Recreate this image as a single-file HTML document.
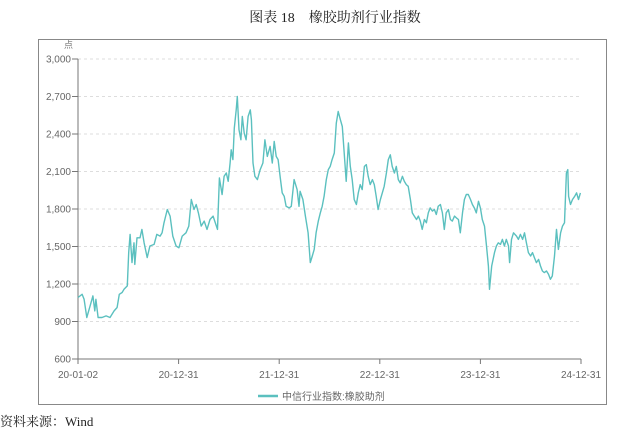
<!DOCTYPE html>
<html><head><meta charset="utf-8"><style>
html,body{margin:0;padding:0;background:#fff;width:625px;height:430px;overflow:hidden}
svg{display:block}
</style></head><body>
<svg id="c" width="625" height="430" xmlns="http://www.w3.org/2000/svg">
<text x="335" y="22" text-anchor="middle" font-family="'Liberation Serif','Noto Serif CJK SC',serif" font-size="14" fill="#222">图表 18　橡胶助剂行业指数</text>
<rect x="38.5" y="39.5" width="568" height="365" fill="none" stroke="#888" stroke-width="1"/>
<text x="64" y="48" font-family="'Liberation Sans','Noto Sans CJK SC',sans-serif" font-size="9" fill="#777">点</text>
<g id="grid"></g>
<g id="axes"></g>
<path id="line" fill="none" stroke="#5bc0bf" stroke-width="1.4" stroke-linejoin="round"/>
<g>
<line x1="258" y1="396" x2="278" y2="396" stroke="#5bc0bf" stroke-width="2.5"/>
<text x="282" y="400" font-family="'Liberation Sans','Noto Sans CJK SC',sans-serif" font-size="10" fill="#666">中信行业指数:橡胶助剂</text>
</g>
<text x="0" y="426" font-family="'Liberation Serif','Noto Serif CJK SC',serif" font-size="13" fill="#222">资料来源：Wind</text>
</svg>
<script>
const yTicks=[600,900,1200,1500,1800,2100,2400,2700,3000];
const yTickLabels=["600","900","1,200","1,500","1,800","2,100","2,400","2,700","3,000"];
const xTickLabels=["20-01-02","20-12-31","21-12-31","22-12-31","23-12-31","24-12-31"];
const totalDays=1825;
const days=[0,15,22,32,44,54,61,65,73,87,102,116,131,142,150,160,167,179,184,189,196,203,206,214,225,232,240,251,261,276,286,298,305,312,324,334,344,356,366,378,392,402,411,421,429,437,447,458,468,479,490,498,506,513,523,530,538,545,552,556,562,567,574,578,584,591,596,603,610,617,625,629,635,642,651,661,671,678,687,697,705,712,719,726,734,741,748,755,766,774,784,795,802,806,816,825,835,843,850,857,864,872,879,886,893,901,908,915,922,930,937,944,952,959,966,973,981,988,995,1002,1010,1017,1024,1031,1039,1046,1053,1060,1068,1075,1082,1089,1097,1104,1111,1119,1126,1133,1140,1148,1155,1162,1169,1177,1184,1191,1198,1206,1213,1220,1228,1235,1242,1249,1257,1264,1271,1278,1286,1293,1300,1307,1315,1322,1329,1336,1344,1351,1358,1366,1373,1380,1387,1395,1402,1409,1416,1424,1431,1438,1445,1453,1460,1467,1475,1482,1489,1493,1501,1511,1518,1525,1533,1540,1547,1554,1562,1566,1573,1580,1591,1598,1605,1613,1620,1627,1634,1642,1649,1656,1663,1671,1678,1685,1692,1700,1707,1714,1721,1729,1736,1743,1751,1758,1765,1772,1777,1780,1787,1794,1802,1809,1816,1823];
const values=[1092,1118,1078,932,1025,1105,985,1078,932,932,945,932,985,1012,1118,1132,1158,1185,1451,1597,1371,1530,1357,1570,1570,1637,1530,1411,1504,1517,1597,1583,1610,1690,1796,1743,1583,1504,1490,1583,1610,1663,1876,1796,1836,1769,1663,1703,1637,1716,1743,1690,1637,2048,1916,2062,2088,2022,2168,2274,2195,2447,2593,2700,2434,2354,2540,2407,2354,2540,2593,2514,2168,2062,2035,2115,2168,2354,2221,2301,2168,2341,2221,2195,2048,1929,1902,1822,1809,1822,2035,1955,1822,1942,1876,1743,1610,1371,1424,1477,1610,1703,1769,1822,1902,2035,2115,2141,2195,2248,2487,2580,2514,2460,2248,2022,2328,2141,2035,1876,1836,1929,1995,1955,2141,2155,2062,1995,2035,1995,1902,1796,1876,1929,1982,2088,2195,2234,2141,2088,2141,2035,2009,2062,2022,1995,1982,1876,1769,1743,1716,1743,1703,1637,1716,1690,1769,1809,1783,1796,1756,1822,1836,1769,1637,1769,1796,1716,1703,1743,1729,1716,1610,1769,1876,1916,1916,1876,1836,1809,1769,1862,1809,1716,1663,1504,1344,1158,1344,1451,1504,1530,1517,1557,1504,1557,1504,1371,1557,1610,1583,1557,1597,1557,1610,1530,1451,1424,1451,1411,1371,1397,1344,1304,1291,1304,1278,1238,1264,1424,1637,1477,1610,1663,1690,2088,2115,1902,1836,1876,1902,1929,1876,1929];
const X0=78,X1=581,Y0=359,Y1=59;
function y(v){return Y0-(v-600)/(3000-600)*(Y0-Y1);}
function x(d){return X0+d/totalDays*(X1-X0);}
function xt(i){return X0+i/(xTickLabels.length-1)*(X1-X0);}
const NS="http://www.w3.org/2000/svg";
const grid=document.getElementById('grid'),axes=document.getElementById('axes');
function mk(tag,attrs,parent){const e=document.createElementNS(NS,tag);for(const k in attrs)e.setAttribute(k,attrs[k]);parent.appendChild(e);return e;}
yTicks.forEach((t,i)=>{
  const yy=y(t);
  if(t>600){const g=mk('line',{x1:X0,x2:X1,y1:yy,y2:yy,stroke:'#ddd','stroke-dasharray':'3,3'},grid);
  
  }
  const tk=mk('line',{x1:X0-6,x2:X0,y1:yy,y2:yy,stroke:'#777'},axes);
  
  
  const lb=mk('text',{x:X0-7,y:yy+3.5,'text-anchor':'end','font-family':'Liberation Sans,sans-serif','font-size':'10',fill:'#666'},axes);
  lb.textContent=yTickLabels[i];
  
  
});
const ya=mk('line',{x1:X0,x2:X0,y1:Y1,y2:Y0,stroke:'#777'},axes);


const xa=mk('line',{x1:X0,x2:X1,y1:Y0,y2:Y0,stroke:'#777'},axes);


xTickLabels.forEach((l,i)=>{
  const xx=xt(i);
  const tk=mk('line',{x1:xx,x2:xx,y1:Y0,y2:Y0+5,stroke:'#777'},axes);
  
  
  const lb=mk('text',{x:xx,y:Y0+19,'text-anchor':'middle','font-family':'Liberation Sans,sans-serif','font-size':'10',fill:'#666'},axes);
  lb.textContent=l;
  
  
});
const n=Math.min(days.length,values.length);
let d='';
for(let i=0;i<n;i++){d+=(i?'L':'M')+x(days[i]).toFixed(1)+','+y(values[i]).toFixed(1);}
document.getElementById('line').setAttribute('d',d);
</script>
</body></html>
